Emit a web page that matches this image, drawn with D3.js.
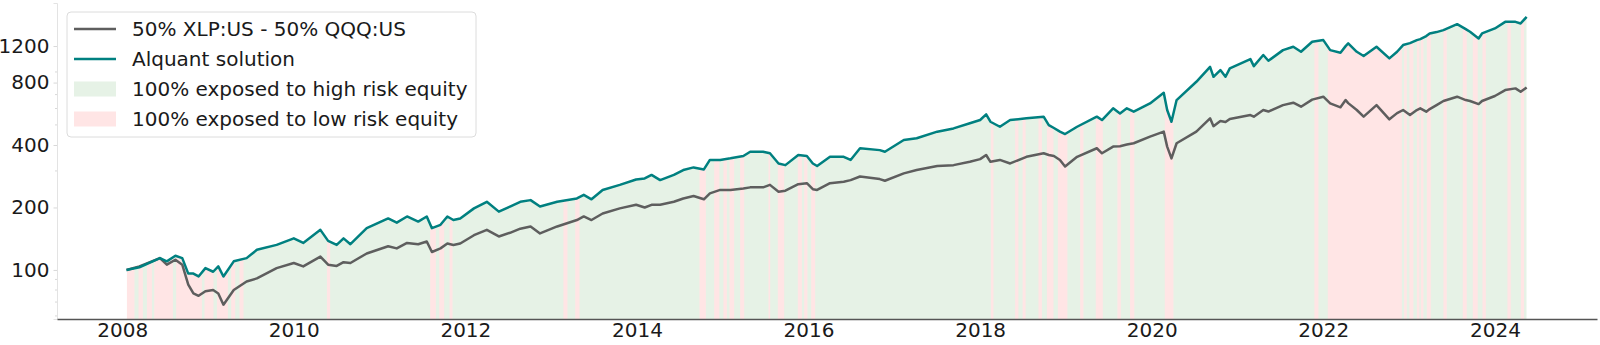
<!DOCTYPE html>
<html>
<head>
<meta charset="utf-8">
<script src="https://cdn.jsdelivr.net/npm/d3@7"></script>
<style>
  body { margin: 0; background: #fff; }
  svg { display: block; font-family: "DejaVu Sans", sans-serif; }
</style>
</head>
<body>
<svg id="chart"></svg>
<script>
// sampling dates (decimal years)
const years = [
  2008.05, 2008.20, 2008.44, 2008.52, 2008.62, 2008.70, 2008.77, 2008.83, 2008.89, 2008.97,
  2009.06, 2009.12, 2009.18, 2009.30, 2009.45, 2009.57, 2009.80, 2010.00, 2010.11, 2010.31,
  2010.40, 2010.50, 2010.58, 2010.66, 2010.85, 2011.10, 2011.20, 2011.32, 2011.45, 2011.55,
  2011.61, 2011.71, 2011.79, 2011.86, 2011.94, 2012.10, 2012.25, 2012.39, 2012.52, 2012.64,
  2012.76, 2012.87, 2013.07, 2013.30, 2013.38, 2013.47, 2013.60, 2013.80, 2013.99, 2014.09,
  2014.17, 2014.27, 2014.43, 2014.54, 2014.66, 2014.78, 2014.85, 2014.97, 2015.09, 2015.24,
  2015.32, 2015.47, 2015.55, 2015.65, 2015.73, 2015.88, 2015.98, 2016.05, 2016.10, 2016.25,
  2016.41, 2016.49, 2016.60, 2016.83, 2016.89, 2017.11, 2017.26, 2017.50, 2017.69, 2017.88,
  2018.00, 2018.07, 2018.12, 2018.23, 2018.35, 2018.54, 2018.74, 2018.80, 2018.86, 2018.93,
  2018.99, 2019.13, 2019.36, 2019.42, 2019.55, 2019.63, 2019.71, 2019.79, 2019.98, 2020.14,
  2020.18, 2020.23, 2020.29, 2020.52, 2020.68, 2020.72, 2020.80, 2020.86, 2020.91, 2021.15,
  2021.19, 2021.30, 2021.36, 2021.53, 2021.65, 2021.74, 2021.87, 2022.00, 2022.08, 2022.20,
  2022.26, 2022.29, 2022.39, 2022.47, 2022.62, 2022.77, 2022.86, 2022.93, 2023.01, 2023.09,
  2023.13, 2023.20, 2023.24, 2023.32, 2023.40, 2023.56, 2023.66, 2023.71, 2023.81, 2023.85,
  2024.00, 2024.12, 2024.24, 2024.30, 2024.37
];

// Alquant solution
const alquant = [
  100, 103, 114, 110, 117, 114, 96, 96, 93, 102,
  98, 104, 93, 110, 114, 125, 132, 142, 135, 156,
  138, 132, 142, 133, 159, 177, 169, 181, 171, 181,
  159, 165, 181, 174, 177, 198, 213, 191, 202, 213,
  217, 202, 213, 221, 230, 219, 243, 257, 273, 276,
  287, 271, 287, 303, 312, 305, 339, 339, 345, 354,
  371, 371, 365, 326, 320, 358, 354, 326, 317, 351,
  351, 339, 386, 378, 371, 423, 431, 464, 481, 509,
  528, 562, 518, 490, 528, 538, 548, 499, 483, 464,
  452, 490, 548, 528, 601, 568, 601, 579, 635, 714,
  590, 518, 659, 807, 953, 853, 919, 853, 936, 1038,
  960, 1086, 1019, 1147, 1190, 1126, 1258, 1282, 1147, 1114,
  1199, 1236, 1126, 1074, 1190, 1046, 1126, 1213, 1240, 1282,
  1296, 1340, 1380, 1401, 1432, 1530, 1448, 1406, 1306, 1380,
  1459, 1570, 1570, 1542, 1659
];

// 50% XLP:US - 50% QQQ:US
const benchmark = [
  100, 104, 114, 106, 112, 106, 85, 77, 75, 79,
  80, 77, 68, 80, 88, 91, 102, 108, 104, 116,
  106, 104.5, 109, 108, 120, 130, 127, 135, 133, 137,
  122, 127, 134, 132, 134, 147, 156, 145, 151, 158,
  162, 150, 162, 174, 181, 174, 187, 198, 206, 200,
  206, 206, 213, 221, 227, 219, 234, 243, 243, 247,
  250, 250, 257, 238, 241, 259, 262, 245, 243, 262,
  266, 271, 282, 274, 269, 292, 303, 317, 320, 332,
  342, 358, 332, 339, 326, 351, 365, 358, 354, 339,
  315, 351, 386, 365, 393, 395, 402, 408, 439, 464,
  393, 345, 408, 464, 538, 493, 522, 516, 534, 558,
  548, 590, 580, 623, 640, 612, 662, 684, 635, 608,
  659, 637, 590, 548, 623, 532, 570, 590, 558, 590,
  601, 579, 596, 623, 652, 684, 659, 652, 630, 652,
  689, 736, 750, 722, 758
];

// exposure regime: whole span is high risk except these low-risk periods
const exposureSpan = [2008.055, 2024.372];
const lowRiskPeriods = [
  [2008.055, 2008.143], [2008.19, 2008.241], [2008.288, 2008.346], [2008.373, 2008.591],
  [2008.629, 2008.929], [2008.959, 2009.064], [2009.104, 2009.232], [2009.27, 2009.317],
  [2009.367, 2009.414], [2010.386, 2010.424],
  [2011.59, 2011.656], [2011.695, 2011.753], [2011.815, 2011.85],
  [2013.143, 2013.19], [2013.28, 2013.33],
  [2014.728, 2014.803], [2014.9, 2014.961], [2015.008, 2015.048], [2015.078, 2015.133],
  [2015.203, 2015.25], [2015.533, 2015.553], [2015.642, 2015.716], [2015.875, 2015.922],
  [2015.949, 2015.987], [2016.03, 2016.077],
  [2018.125, 2018.155], [2018.408, 2018.446], [2018.495, 2018.53], [2018.68, 2018.72],
  [2018.778, 2018.855], [2018.906, 2019.017], [2019.166, 2019.204], [2019.348, 2019.43],
  [2019.6, 2019.64], [2019.748, 2019.797], [2020.152, 2020.253],
  [2021.896, 2021.943], [2022.052, 2022.915], [2022.942, 2022.973], [2023.003, 2023.05],
  [2023.09, 2023.12], [2023.136, 2023.167], [2023.206, 2023.253], [2023.4, 2023.439],
  [2023.625, 2023.672], [2023.742, 2023.8], [2023.855, 2023.894], [2024.146, 2024.185],
  [2024.302, 2024.34]
];

const xTicks = [2008, 2010, 2012, 2014, 2016, 2018, 2020, 2022, 2024];
const yTicks = [100, 200, 400, 800, 1200];
const yMinorTicks = [60, 70, 80, 90, 300, 500, 600, 700, 900];

const highFill = 'rgb(230,242,230)';
const lowFill = 'rgb(255,229,229)';

const legendItems = [
  { type: 'line', color: '#5e5e5e', label: '50% XLP:US - 50% QQQ:US' },
  { type: 'line', color: '#008080', label: 'Alquant solution' },
  { type: 'patch', color: highFill, label: '100% exposed to high risk equity' },
  { type: 'patch', color: lowFill, label: '100% exposed to low risk equity' },
];

const width = 1600, height = 345;
const plot = { left: 57, right: 1597, top: 3, bottom: 319 };

const svg = d3.select('#chart').attr('width', width).attr('height', height);

const x = d3.scaleLinear().domain([2007.24, 2025.19]).range([plot.left, plot.right]);
const y = d3.scaleLog().domain([58, 1935]).range([plot.bottom, plot.top]);

const rows = years.map((yr, i) => ({ yr, a: alquant[i], b: benchmark[i] }));

// clip for the regime shading: under the Alquant curve
const underArea = d3.area()
  .x(d => x(d.yr))
  .y0(plot.bottom)
  .y1(d => y(d.a));

svg.append('clipPath').attr('id', 'under')
  .append('path').attr('d', underArea(rows));

const bands = svg.append('g').attr('clip-path', 'url(#under)');
bands.append('rect')
  .attr('x', x(exposureSpan[0]))
  .attr('width', x(exposureSpan[1]) - x(exposureSpan[0]))
  .attr('y', plot.top)
  .attr('height', plot.bottom - plot.top)
  .attr('fill', highFill);
bands.selectAll('.low')
  .data(lowRiskPeriods)
  .join('rect')
  .attr('class', 'low')
  .attr('x', d => x(d[0]))
  .attr('width', d => x(d[1]) - x(d[0]))
  .attr('y', plot.top)
  .attr('height', plot.bottom - plot.top)
  .attr('fill', lowFill);

// lines
const lineA = d3.line().x(d => x(d.yr)).y(d => y(d.a));
const lineB = d3.line().x(d => x(d.yr)).y(d => y(d.b));

svg.append('path').datum(rows)
  .attr('fill', 'none').attr('stroke', '#5e5e5e').attr('stroke-width', 2.5)
  .attr('stroke-linejoin', 'round').attr('d', lineB);
svg.append('path').datum(rows)
  .attr('fill', 'none').attr('stroke', '#008080').attr('stroke-width', 2.5)
  .attr('stroke-linejoin', 'round').attr('d', lineA);

// y axis (light)
const yAxis = d3.axisLeft(y).tickValues(yTicks).tickFormat(d3.format('d')).tickSize(3.5).tickPadding(4);
const gy = svg.append('g').attr('transform', `translate(${plot.left},0)`).call(yAxis);
gy.select('.domain').attr('stroke', '#e3e3e3').attr('stroke-width', 1);
gy.selectAll('.tick line').attr('stroke', '#d8d8d8');
gy.selectAll('.tick text').attr('font-size', 20).attr('fill', '#1a1a1a')
  .attr('font-family', '"DejaVu Sans", sans-serif');

gy.selectAll('.minor')
  .data(yMinorTicks)
  .join('line')
  .attr('class', 'minor')
  .attr('x1', -2).attr('x2', 0)
  .attr('y1', d => y(d)).attr('y2', d => y(d))
  .attr('stroke', '#d8d8d8');

// x axis
const xAxis = d3.axisBottom(x).tickValues(xTicks).tickFormat(d3.format('d')).tickSize(0).tickPadding(4);
const gx = svg.append('g').attr('transform', `translate(0,${plot.bottom})`).call(xAxis);
gx.select('.domain').attr('stroke', '#555').attr('stroke-width', 1.3);
gx.selectAll('.tick text').attr('font-size', 20).attr('fill', '#1a1a1a')
  .attr('font-family', '"DejaVu Sans", sans-serif');

// legend
const legend = svg.append('g').attr('transform', 'translate(67,12)');
legend.append('rect')
  .attr('width', 409).attr('height', 125).attr('rx', 4)
  .attr('fill', 'rgba(255,255,255,0.8)').attr('stroke', '#dcdcdc');

const item = legend.selectAll('.item')
  .data(legendItems)
  .join('g')
  .attr('class', 'item')
  .attr('transform', (d, i) => `translate(0,${17 + i * 30})`);

item.filter(d => d.type === 'line').append('line')
  .attr('x1', 7).attr('x2', 49).attr('y1', 0).attr('y2', 0)
  .attr('stroke', d => d.color).attr('stroke-width', 2.5);
item.filter(d => d.type === 'patch').append('rect')
  .attr('x', 7).attr('width', 42).attr('y', -7.5).attr('height', 15)
  .attr('fill', d => d.color);
item.append('text')
  .attr('x', 65).attr('dy', '0.35em')
  .attr('font-size', 20).attr('fill', '#1a1a1a')
  .text(d => d.label);
</script>
</body>
</html>
